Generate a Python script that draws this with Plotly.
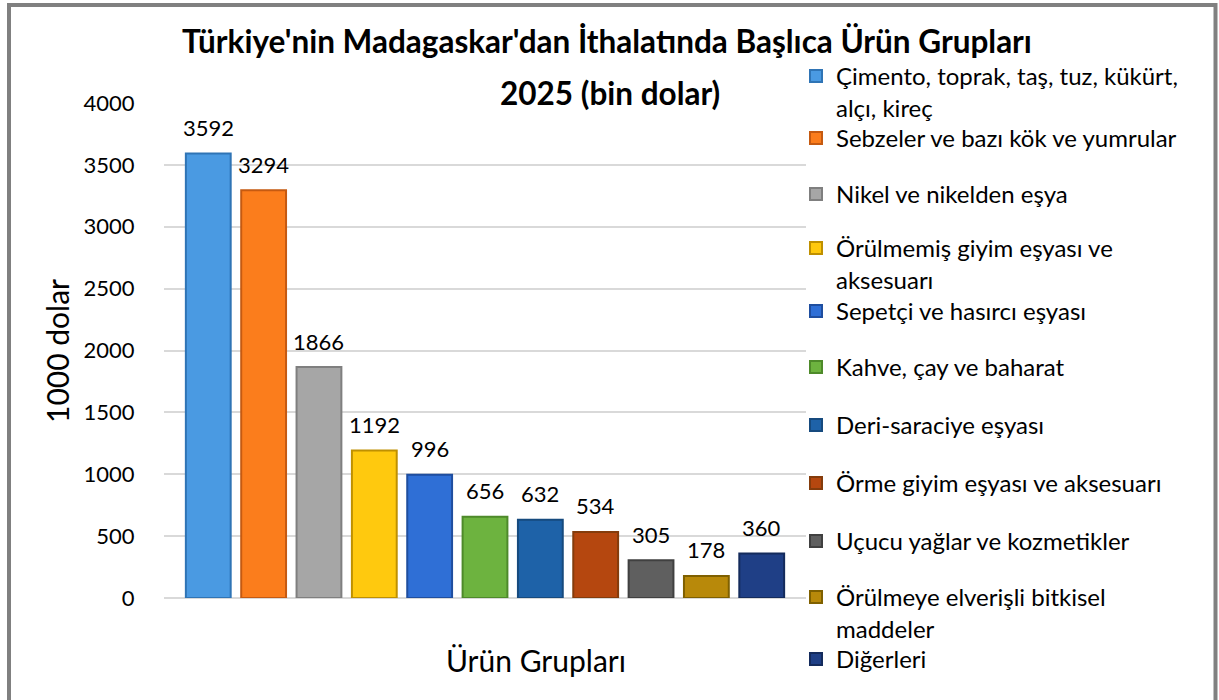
import plotly.graph_objects as go

categories = [
    "Çimento, toprak, taş, tuz, kükürt,<br>alçı, kireç",
    "Sebzeler ve bazı kök ve yumrular",
    "Nikel ve nikelden eşya",
    "Örülmemiş giyim eşyası ve<br>aksesuarı",
    "Sepetçi ve hasırcı eşyası",
    "Kahve, çay ve baharat",
    "Deri-saraciye eşyası",
    "Örme giyim eşyası ve aksesuarı",
    "Uçucu yağlar ve kozmetikler",
    "Örülmeye elverişli bitkisel<br>maddeler",
    "Diğerleri",
]
values = [3592, 3294, 1866, 1192, 996, 656, 632, 534, 305, 178, 360]
colors = ["#4A9AE2", "#FB7D1C", "#A6A6A6", "#FFC90E", "#2F6FD6", "#6DB33F",
          "#1E62A8", "#B5470F", "#5F5F5F", "#B8890A", "#1F3F86"]
edge_colors = ["#2F74B5", "#C55A11", "#7F7F7F", "#BF9000", "#1F4E9F", "#4E8A2A",
               "#164A7E", "#843C0C", "#404040", "#7F6000", "#142B5C"]
y_ticks = [0, 500, 1000, 1500, 2000, 2500, 3000, 3500, 4000]

FONT = "Lato"
W, H = 1219, 700
L, R, T, B = 164, 806, 103, 598
pw, ph = R - L, B - T

def px_x(p):
    return (p - L) / pw

def px_y(p):
    return (B - p) / ph

fig = go.Figure()
legend_first_line = [76, 138, 194, 248, 311, 367, 425, 483, 541, 597, 659]
for i, (c, v) in enumerate(zip(categories, values)):
    lname = "legend" if i == 0 else f"legend{i+1}"
    fig.add_trace(go.Bar(
        x=[i], y=[v], name=c, width=0.81,
        marker=dict(color=colors[i], line=dict(color=edge_colors[i], width=2)),
        legend=lname, showlegend=True, hoverinfo="y+name",
    ))
    fig.add_annotation(x=i, y=v, text=str(v), showarrow=False, yshift=26,
                       yanchor="middle", xanchor="center",
                       font=dict(family=FONT, size=22, color="#000"))

legends = {}
for i, yc in enumerate(legend_first_line):
    lname = "legend" if i == 0 else f"legend{i+1}"
    legends[lname] = dict(
        x=px_x(796), xanchor="left", y=px_y(yc - 22), yanchor="top",
        font=dict(family=FONT, size=24, color="#000"),
        bgcolor="rgba(0,0,0,0)", valign="top", tracegroupgap=0,
        itemclick=False, itemdoubleclick=False,
    )

fig.update_layout(
    width=W, height=H,
    margin=dict(l=L, r=W - R, t=T, b=H - B, pad=0),
    paper_bgcolor="white", plot_bgcolor="white",
    barmode="overlay",
    title=dict(text="<b>Türkiye'nin Madagaskar'dan İthalatında Başlıca Ürün Grupları</b>",
               x=px_x(607), xref="paper", xanchor="center",
               y=1 - 42 / H, yref="container", yanchor="middle",
               font=dict(family=FONT, size=31.5, color="#000")),
    xaxis=dict(range=[-0.8, 10.8], showticklabels=False, showgrid=False,
               zeroline=False, showline=False, ticks=""),
    yaxis=dict(range=[0, 4000], tickvals=y_ticks, ticktext=[str(t) for t in y_ticks],
               showgrid=True, gridcolor="#D9D9D9", gridwidth=1.5,
               zeroline=True, zerolinecolor="#D9D9D9", zerolinewidth=1.5,
               showline=False, ticks="outside", ticklen=24, tickcolor="rgba(0,0,0,0)",
               tickfont=dict(family=FONT, size=22, color="#000")),
    showlegend=True,
    **legends,
)

fig.add_annotation(text="<b>2025 (bin dolar)</b>", x=px_x(610), y=px_y(93),
                   xref="paper", yref="paper", showarrow=False,
                   xanchor="center", yanchor="middle",
                   font=dict(family=FONT, size=31.5, color="#000"))
fig.add_annotation(text="Ürün Grupları", x=px_x(536), y=px_y(660),
                   xref="paper", yref="paper", showarrow=False,
                   xanchor="center", yanchor="middle",
                   font=dict(family=FONT, size=30, color="#000"))
fig.add_annotation(text="1000 dolar", x=px_x(57), y=px_y(351), textangle=-90,
                   xref="paper", yref="paper", showarrow=False,
                   xanchor="center", yanchor="middle",
                   font=dict(family=FONT, size=30, color="#000"))

fig.add_shape(type="rect", xref="paper", yref="paper",
              x0=px_x(9), x1=px_x(1215.5), y0=px_y(706), y1=px_y(5),
              line=dict(color="#808080", width=4), fillcolor="rgba(0,0,0,0)",
              layer="below")

fig.write_html("out.html",
               config={"displayModeBar": False},
               post_script="document.body.style.margin='0';document.body.style.overflow='hidden';")
